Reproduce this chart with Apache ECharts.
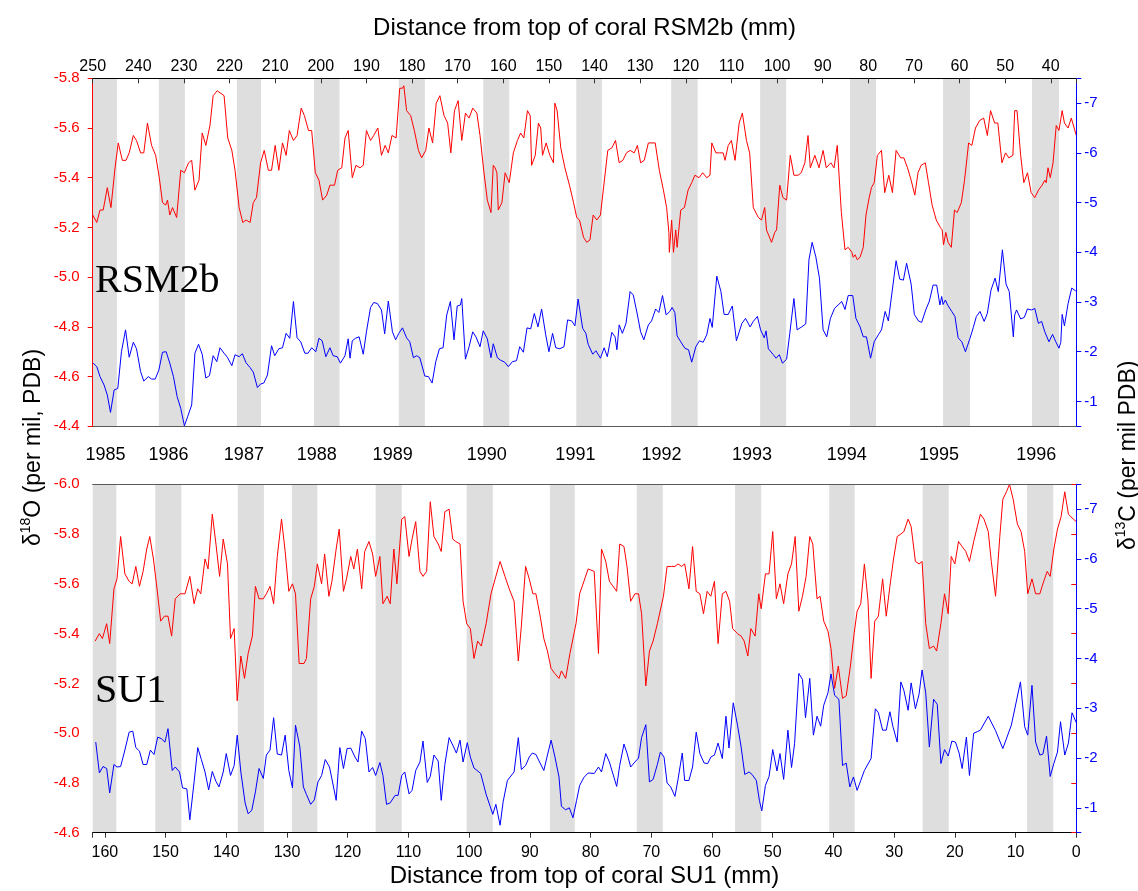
<!DOCTYPE html>
<html>
<head>
<meta charset="utf-8">
<script src="https://cdn.jsdelivr.net/npm/echarts@6/dist/echarts.min.js"></script>
<style>
html, body { margin: 0; padding: 0; background: #ffffff; }
#chart { width: 1138px; height: 891px; }
</style>
</head>
<body>
<div id="chart"></div>
<script>
// RSM2b coral: distance from top (mm) vs isotope value
const rsmO18 = [[250,-5.25],[249.1,-5.22],[248.4,-5.27],[247.7,-5.27],[246.8,-5.36],[246.0,-5.28],[245.1,-5.44],[244.4,-5.54],[243.5,-5.47],[242.7,-5.47],[242.0,-5.50],[241.1,-5.57],[240.4,-5.55],[239.5,-5.50],[238.8,-5.50],[238.0,-5.62],[237.1,-5.53],[236.2,-5.49],[235.4,-5.40],[234.7,-5.30],[234.0,-5.29],[233.6,-5.31],[233.1,-5.25],[232.5,-5.28],[231.6,-5.24],[230.7,-5.43],[229.9,-5.42],[229.0,-5.46],[228.3,-5.47],[227.6,-5.35],[226.7,-5.39],[226.0,-5.58],[225.2,-5.53],[224.3,-5.61],[223.6,-5.73],[222.7,-5.75],[221.2,-5.73],[220.4,-5.56],[219.5,-5.51],[218.8,-5.43],[217.9,-5.28],[217.1,-5.22],[216.4,-5.23],[215.5,-5.22],[214.8,-5.30],[214.1,-5.32],[213.2,-5.46],[212.4,-5.51],[211.5,-5.43],[210.8,-5.43],[210.0,-5.53],[209.2,-5.43],[208.4,-5.54],[207.6,-5.49],[206.9,-5.59],[206.0,-5.55],[205.2,-5.57],[204.3,-5.68],[203.6,-5.65],[202.7,-5.59],[202.0,-5.59],[201.2,-5.42],[200.4,-5.39],[199.6,-5.31],[198.7,-5.33],[198.0,-5.37],[197.0,-5.37],[196.3,-5.43],[195.4,-5.44],[194.7,-5.56],[194.0,-5.59],[193.1,-5.40],[192.3,-5.45],[191.4,-5.44],[190.7,-5.45],[190.0,-5.59],[189.1,-5.55],[188.4,-5.57],[187.5,-5.60],[186.7,-5.49],[185.9,-5.53],[185.2,-5.50],[184.4,-5.57],[183.5,-5.56],[182.7,-5.76],[182.1,-5.76],[181.8,-5.77],[181.2,-5.67],[180.3,-5.65],[179.5,-5.59],[178.6,-5.51],[177.9,-5.48],[177.0,-5.51],[176.3,-5.60],[175.5,-5.54],[174.7,-5.70],[173.9,-5.73],[173.0,-5.65],[172.2,-5.62],[171.5,-5.50],[170.7,-5.67],[169.9,-5.71],[169.1,-5.55],[168.3,-5.66],[167.5,-5.64],[166.7,-5.68],[165.8,-5.66],[165.1,-5.57],[164.3,-5.43],[163.5,-5.31],[162.7,-5.26],[162.2,-5.45],[161.8,-5.44],[161.4,-5.42],[161.1,-5.27],[160.3,-5.30],[159.6,-5.42],[158.7,-5.38],[157.8,-5.50],[156.9,-5.55],[156.2,-5.58],[155.5,-5.56],[154.7,-5.67],[154.1,-5.65],[153.8,-5.45],[153.0,-5.49],[152.3,-5.62],[151.8,-5.60],[151.4,-5.49],[150.6,-5.54],[149.8,-5.49],[149.0,-5.46],[148.7,-5.70],[148.2,-5.67],[147.4,-5.52],[146.5,-5.44],[145.5,-5.37],[144.6,-5.30],[143.9,-5.24],[143.3,-5.23],[142.4,-5.16],[141.7,-5.14],[141.0,-5.15],[140.3,-5.25],[139.5,-5.23],[138.7,-5.25],[137.1,-5.51],[136.2,-5.52],[135.4,-5.55],[134.6,-5.46],[133.8,-5.47],[133.0,-5.50],[132.2,-5.51],[131.3,-5.50],[130.6,-5.53],[129.9,-5.46],[129.1,-5.47],[128.2,-5.54],[126.7,-5.54],[125.8,-5.43],[124.9,-5.35],[124.2,-5.28],[123.7,-5.18],[123.6,-5.10],[123.1,-5.23],[122.7,-5.10],[122.2,-5.19],[121.9,-5.12],[121.1,-5.27],[120.3,-5.28],[119.5,-5.35],[118.7,-5.38],[118.0,-5.41],[117.1,-5.40],[116.3,-5.42],[115.4,-5.40],[114.7,-5.41],[114.3,-5.54],[113.4,-5.50],[112.6,-5.50],[111.8,-5.50],[111.4,-5.47],[110.7,-5.53],[110.0,-5.55],[109.2,-5.47],[108.3,-5.62],[107.6,-5.66],[106.7,-5.55],[106.0,-5.50],[105.2,-5.28],[104.1,-5.24],[103.4,-5.23],[102.7,-5.28],[102.3,-5.19],[101.2,-5.14],[100.5,-5.18],[100.1,-5.19],[99.4,-5.37],[98.7,-5.32],[97.9,-5.31],[97.1,-5.49],[96.3,-5.41],[95.4,-5.41],[94.7,-5.42],[93.9,-5.46],[93.2,-5.57],[92.7,-5.44],[92.3,-5.44],[91.7,-5.49],[90.8,-5.44],[89.9,-5.51],[89.2,-5.44],[88.2,-5.46],[87.5,-5.44],[86.8,-5.53],[85.9,-5.26],[85.1,-5.11],[84.4,-5.12],[83.6,-5.10],[83.3,-5.08],[82.9,-5.09],[82.4,-5.07],[81.8,-5.08],[81.1,-5.12],[80.5,-5.25],[79.8,-5.32],[79.3,-5.36],[78.7,-5.38],[78.0,-5.49],[77.1,-5.51],[76.4,-5.34],[75.5,-5.41],[74.7,-5.34],[73.9,-5.51],[72.9,-5.48],[72.2,-5.48],[71.4,-5.44],[70.6,-5.39],[69.8,-5.33],[69.1,-5.42],[68.4,-5.45],[67.5,-5.46],[66.8,-5.38],[66.0,-5.29],[65.1,-5.23],[64.2,-5.20],[63.8,-5.19],[63.5,-5.13],[63.0,-5.18],[62.5,-5.14],[61.8,-5.12],[61.1,-5.27],[60.5,-5.26],[59.6,-5.30],[58.9,-5.39],[58.0,-5.54],[57.3,-5.53],[56.5,-5.60],[55.6,-5.63],[54.7,-5.64],[53.9,-5.57],[53.2,-5.67],[52.3,-5.62],[51.6,-5.62],[50.7,-5.46],[49.9,-5.50],[49.2,-5.48],[48.3,-5.49],[47.9,-5.67],[47.4,-5.67],[47.0,-5.67],[46.6,-5.49],[45.9,-5.38],[45.1,-5.42],[44.3,-5.34],[43.5,-5.32],[42.7,-5.35],[41.9,-5.37],[41.3,-5.39],[41.0,-5.38],[40.6,-5.44],[40.1,-5.40],[39.5,-5.46],[38.8,-5.61],[38.2,-5.59],[37.5,-5.67],[37.0,-5.62],[36.2,-5.60],[35.5,-5.64],[34.4,-5.57]];

const rsmC13 = [[249.9,-1.77],[249.1,-1.70],[248.4,-1.50],[247.5,-1.33],[246.8,-1.13],[246.1,-0.78],[245.3,-1.23],[244.5,-1.26],[243.7,-2.00],[242.8,-2.44],[242.0,-1.89],[241.1,-2.19],[240.4,-2.06],[239.5,-1.60],[238.8,-1.41],[237.8,-1.50],[237.1,-1.45],[236.3,-1.45],[235.5,-1.63],[234.7,-1.99],[233.9,-2.00],[233.1,-1.77],[232.3,-1.50],[231.5,-1.10],[230.7,-0.86],[229.9,-0.51],[229.2,-0.69],[228.3,-0.93],[227.6,-1.97],[226.8,-2.15],[226.0,-1.95],[225.2,-1.47],[224.4,-1.52],[223.6,-1.92],[222.8,-1.80],[222.1,-2.08],[221.2,-1.97],[220.5,-1.89],[219.5,-1.72],[218.8,-1.94],[217.9,-1.90],[217.2,-1.96],[216.4,-1.78],[215.5,-1.68],[214.8,-1.59],[213.9,-1.28],[213.2,-1.35],[212.5,-1.37],[211.7,-1.53],[210.8,-2.12],[210.1,-1.92],[209.2,-2.06],[208.4,-2.08],[207.6,-2.37],[206.8,-2.27],[206.0,-3.01],[205.2,-2.28],[204.4,-2.20],[203.5,-1.97],[202.8,-1.97],[202.0,-2.08],[201.1,-2.00],[200.4,-2.27],[199.7,-2.22],[198.9,-1.90],[198.0,-2.08],[197.3,-1.92],[196.4,-1.90],[195.7,-1.77],[194.7,-1.92],[194.0,-2.26],[193.6,-1.87],[193.1,-2.22],[192.4,-2.27],[191.6,-2.30],[190.7,-1.95],[190.0,-2.40],[189.1,-2.89],[188.4,-2.99],[187.6,-2.97],[186.7,-2.84],[186.0,-2.36],[185.2,-3.02],[184.3,-2.40],[183.6,-2.24],[182.9,-2.37],[182.1,-2.48],[181.2,-2.28],[180.5,-2.20],[179.7,-1.88],[179.0,-1.92],[178.3,-1.88],[177.2,-1.51],[176.4,-1.50],[175.6,-1.37],[174.8,-1.80],[174.0,-2.06],[173.2,-2.08],[172.4,-2.74],[171.6,-3.01],[170.8,-2.24],[170.1,-2.92],[169.4,-2.94],[169.1,-3.07],[168.3,-1.85],[167.5,-2.10],[166.7,-2.40],[166.0,-2.30],[165.1,-2.10],[164.4,-2.42],[163.5,-2.26],[162.7,-1.88],[162.2,-2.16],[161.3,-1.88],[160.6,-1.83],[159.7,-1.79],[158.9,-1.70],[158.0,-1.80],[157.1,-1.82],[156.4,-2.10],[155.6,-1.99],[154.8,-2.48],[154.0,-2.46],[153.2,-2.77],[152.4,-2.50],[151.6,-2.86],[150.7,-2.34],[150.0,-2.00],[149.2,-2.37],[148.5,-2.08],[147.6,-2.06],[146.7,-2.10],[145.9,-2.64],[145.0,-2.62],[144.3,-2.52],[143.6,-3.06],[142.6,-2.47],[141.9,-2.37],[141.4,-2.15],[140.4,-1.95],[139.7,-2.02],[138.7,-1.87],[137.9,-2.08],[137.2,-1.90],[136.2,-2.39],[135.5,-2.30],[135.1,-2.04],[134.6,-2.54],[133.9,-2.37],[133.1,-2.57],[132.2,-3.21],[131.5,-3.14],[130.6,-2.74],[129.9,-2.40],[129.2,-2.24],[128.2,-2.54],[127.5,-2.62],[126.6,-2.86],[125.9,-2.79],[125.1,-3.13],[124.3,-2.74],[123.5,-2.81],[123.0,-2.89],[122.4,-2.79],[121.9,-2.32],[121.1,-2.20],[120.2,-2.07],[119.4,-2.04],[118.7,-1.79],[117.8,-2.10],[117.0,-2.22],[116.2,-2.19],[115.4,-2.34],[114.7,-2.67],[114.2,-2.49],[113.2,-3.52],[112.3,-3.21],[111.6,-2.75],[110.7,-2.75],[109.8,-2.92],[108.9,-2.22],[107.7,-2.57],[106.9,-2.67],[105.9,-2.50],[105.2,-2.61],[104.3,-2.71],[103.6,-2.44],[102.8,-2.28],[102.4,-2.42],[101.9,-2.06],[100.9,-1.95],[100.2,-1.87],[99.5,-1.94],[98.8,-1.77],[97.9,-1.85],[97.2,-2.37],[96.3,-3.07],[95.6,-2.44],[94.6,-2.50],[93.7,-2.56],[93.0,-3.85],[92.3,-4.20],[91.5,-3.91],[90.7,-3.48],[89.9,-2.44],[89.1,-2.30],[88.3,-2.67],[87.4,-2.87],[86.6,-2.94],[85.8,-3.01],[85.1,-2.85],[84.4,-3.13],[83.4,-3.13],[82.7,-2.67],[81.8,-2.50],[81.1,-2.30],[80.4,-2.30],[79.5,-1.87],[78.7,-2.20],[77.8,-2.34],[77.1,-2.44],[76.3,-2.81],[75.6,-2.62],[74.7,-3.26],[74.3,-3.26],[73.9,-3.83],[73.1,-3.46],[72.3,-3.44],[71.6,-3.78],[70.6,-3.36],[69.9,-2.75],[69.0,-2.62],[68.3,-2.59],[67.4,-2.84],[66.6,-3.02],[65.8,-3.34],[65.0,-3.34],[64.3,-2.94],[63.9,-3.11],[63.6,-2.95],[63.1,-3.04],[62.6,-2.94],[61.7,-2.81],[61.0,-2.71],[60.3,-2.28],[59.5,-2.20],[58.7,-2.00],[57.7,-2.27],[57.0,-2.48],[56.3,-2.71],[55.5,-2.81],[54.6,-2.61],[53.9,-2.77],[53.1,-3.24],[52.2,-3.48],[51.5,-3.21],[50.6,-4.05],[49.8,-3.36],[49.1,-3.21],[48.2,-2.30],[47.9,-2.74],[47.5,-2.84],[46.6,-2.66],[45.8,-2.69],[45.1,-2.86],[44.2,-2.84],[43.5,-2.87],[42.7,-2.57],[42.0,-2.61],[41.3,-2.40],[40.4,-2.20],[39.6,-2.35],[38.9,-2.20],[38.2,-2.07],[37.8,-2.19],[37.5,-2.75],[37.0,-2.52],[36.2,-2.97],[35.4,-3.28],[34.5,-3.22]];

// SU1 coral: distance from top (mm) vs isotope value
const su1O18 = [[161.6,-5.37],[160.9,-5.40],[160.4,-5.38],[159.7,-5.44],[159.2,-5.36],[158.5,-5.58],[158.0,-5.62],[157.4,-5.79],[156.7,-5.64],[156.0,-5.61],[155.5,-5.60],[154.9,-5.67],[154.3,-5.59],[153.7,-5.65],[153.1,-5.74],[152.6,-5.79],[152.0,-5.70],[151.5,-5.60],[150.8,-5.45],[150.2,-5.47],[149.6,-5.47],[149.0,-5.39],[148.4,-5.54],[147.6,-5.56],[146.8,-5.56],[146.0,-5.63],[145.3,-5.52],[144.7,-5.58],[144.2,-5.56],[143.5,-5.70],[143.0,-5.66],[142.3,-5.88],[141.7,-5.76],[141.1,-5.63],[140.5,-5.78],[139.8,-5.68],[139.3,-5.38],[138.7,-5.42],[138.2,-5.13],[137.6,-5.31],[137.0,-5.22],[136.4,-5.32],[135.7,-5.39],[135.2,-5.59],[134.6,-5.54],[133.9,-5.54],[133.4,-5.56],[132.8,-5.59],[132.2,-5.52],[131.6,-5.71],[130.9,-5.86],[130.3,-5.73],[129.7,-5.57],[129.1,-5.60],[128.6,-5.56],[128.0,-5.28],[127.2,-5.28],[126.8,-5.30],[126.1,-5.54],[125.5,-5.59],[125.0,-5.68],[124.3,-5.60],[123.8,-5.72],[123.1,-5.55],[122.6,-5.61],[121.9,-5.74],[121.4,-5.82],[120.7,-5.57],[120.2,-5.62],[119.5,-5.71],[119.0,-5.66],[118.4,-5.74],[117.7,-5.58],[117.2,-5.73],[116.5,-5.77],[115.9,-5.72],[115.4,-5.63],[114.7,-5.71],[114.2,-5.52],[113.5,-5.55],[113.0,-5.52],[112.4,-5.74],[111.9,-5.60],[111.1,-5.86],[110.6,-5.87],[109.9,-5.71],[109.4,-5.78],[108.8,-5.85],[108.1,-5.65],[107.6,-5.63],[107.0,-5.65],[106.4,-5.93],[105.8,-5.79],[105.1,-5.76],[104.6,-5.73],[104.0,-5.89],[103.3,-5.90],[102.7,-5.78],[102.2,-5.77],[101.5,-5.76],[101.0,-5.53],[100.4,-5.44],[99.8,-5.42],[99.2,-5.30],[98.6,-5.37],[98.0,-5.35],[97.2,-5.44],[96.4,-5.56],[95.6,-5.63],[94.9,-5.69],[94.1,-5.63],[93.4,-5.58],[92.6,-5.53],[91.9,-5.29],[91.4,-5.43],[90.7,-5.67],[90.1,-5.62],[89.5,-5.56],[89.0,-5.56],[88.3,-5.47],[87.7,-5.38],[87.1,-5.33],[86.5,-5.26],[85.9,-5.24],[85.2,-5.22],[84.8,-5.25],[84.1,-5.22],[83.4,-5.32],[82.4,-5.44],[81.8,-5.56],[81.1,-5.61],[80.4,-5.66],[79.4,-5.65],[78.7,-5.32],[78.2,-5.74],[77.5,-5.69],[76.9,-5.61],[75.7,-5.57],[75.2,-5.76],[74.5,-5.75],[74.0,-5.67],[73.4,-5.53],[72.7,-5.56],[72.1,-5.56],[71.6,-5.48],[70.9,-5.19],[70.3,-5.33],[69.7,-5.37],[69.0,-5.44],[68.0,-5.55],[67.4,-5.67],[66.7,-5.67],[66.1,-5.67],[65.6,-5.68],[65.0,-5.67],[64.5,-5.68],[63.8,-5.58],[63.2,-5.75],[62.6,-5.57],[62.0,-5.56],[61.4,-5.48],[60.8,-5.57],[60.2,-5.55],[59.6,-5.61],[59.0,-5.36],[58.3,-5.56],[57.7,-5.57],[57.1,-5.53],[56.6,-5.42],[55.8,-5.40],[55.2,-5.39],[54.7,-5.37],[54.1,-5.31],[53.6,-5.42],[52.9,-5.39],[52.3,-5.56],[51.9,-5.50],[51.2,-5.64],[50.6,-5.64],[50.0,-5.81],[49.4,-5.54],[48.8,-5.60],[48.2,-5.52],[47.5,-5.64],[46.9,-5.68],[46.3,-5.79],[45.7,-5.49],[45.1,-5.55],[44.5,-5.63],[43.9,-5.79],[43.4,-5.76],[42.7,-5.54],[42.2,-5.55],[41.6,-5.45],[40.9,-5.41],[40.4,-5.34],[39.8,-5.18],[39.2,-5.27],[38.5,-5.14],[37.9,-5.15],[37.2,-5.27],[36.6,-5.40],[36.1,-5.49],[35.5,-5.52],[34.9,-5.68],[34.3,-5.53],[33.8,-5.22],[33.2,-5.45],[32.6,-5.47],[31.9,-5.62],[31.3,-5.47],[30.7,-5.59],[30.1,-5.70],[29.5,-5.79],[28.9,-5.80],[28.4,-5.81],[27.7,-5.86],[27.2,-5.83],[26.5,-5.69],[25.9,-5.68],[25.4,-5.69],[24.8,-5.44],[24.2,-5.34],[23.5,-5.35],[23.0,-5.33],[22.3,-5.44],[21.7,-5.56],[21.1,-5.48],[20.6,-5.71],[20.0,-5.68],[19.4,-5.77],[18.8,-5.75],[18.2,-5.73],[17.6,-5.69],[16.9,-5.77],[15.8,-5.88],[15.2,-5.86],[14.5,-5.81],[14.0,-5.69],[13.3,-5.55],[12.6,-5.79],[12.1,-5.94],[11.5,-5.97],[11.0,-6.00],[10.4,-5.94],[9.7,-5.84],[9.1,-5.81],[8.5,-5.73],[8.0,-5.56],[7.3,-5.62],[6.7,-5.56],[6.0,-5.56],[5.5,-5.60],[4.8,-5.65],[4.3,-5.63],[3.7,-5.74],[3.1,-5.82],[2.5,-5.87],[1.9,-5.97],[1.3,-5.88],[0.5,-5.86],[0.0,-5.85]];

const su1C13 = [[161.5,-2.32],[160.9,-1.70],[160.3,-1.83],[159.7,-1.79],[159.2,-1.30],[158.5,-1.87],[158.0,-1.82],[157.4,-1.83],[156.7,-2.16],[156.0,-2.52],[155.4,-2.54],[154.9,-2.21],[154.3,-2.14],[153.7,-1.87],[153.1,-1.87],[152.5,-2.16],[151.9,-2.07],[151.3,-2.42],[150.7,-2.39],[150.1,-2.32],[149.6,-2.59],[148.9,-1.75],[148.4,-1.82],[147.7,-1.72],[147.2,-1.40],[146.5,-1.38],[146.0,-0.76],[145.3,-1.52],[144.7,-2.21],[144.1,-1.97],[143.5,-1.72],[142.9,-1.36],[142.3,-1.73],[141.7,-1.53],[141.2,-1.42],[140.5,-1.72],[140.0,-2.09],[139.3,-1.65],[138.7,-1.85],[138.2,-2.46],[137.6,-1.72],[136.9,-1.10],[136.4,-0.88],[135.8,-0.95],[135.2,-1.32],[134.6,-1.79],[133.9,-1.59],[133.4,-2.06],[132.8,-2.16],[132.2,-2.81],[131.6,-2.08],[130.9,-2.06],[130.3,-2.46],[129.7,-1.75],[129.1,-1.40],[128.6,-2.66],[127.9,-2.24],[127.3,-1.42],[126.8,-1.27],[126.1,-1.07],[125.5,-1.16],[124.9,-1.52],[124.3,-1.65],[123.7,-1.97],[123.0,-1.82],[122.5,-1.52],[121.9,-1.15],[121.3,-2.21],[120.7,-1.79],[120.1,-2.19],[119.5,-2.20],[118.8,-2.02],[118.3,-1.92],[117.7,-2.54],[117.1,-2.39],[116.5,-1.72],[115.9,-1.81],[115.4,-1.65],[114.7,-1.91],[114.2,-1.65],[113.6,-1.07],[113.0,-1.10],[112.2,-1.25],[111.7,-1.25],[111.1,-1.65],[110.6,-1.72],[109.9,-1.28],[109.4,-1.35],[108.8,-1.75],[108.1,-1.92],[107.6,-2.34],[106.9,-1.51],[106.4,-1.63],[105.8,-2.06],[105.1,-1.94],[104.6,-1.15],[104.0,-1.87],[103.3,-2.41],[102.7,-2.26],[102.1,-2.10],[101.5,-2.36],[101.0,-1.92],[100.3,-2.31],[99.8,-2.02],[99.2,-1.80],[98.1,-1.69],[97.2,-1.27],[96.1,-0.87],[95.6,-1.07],[94.9,-0.65],[94.4,-1.12],[93.7,-1.55],[92.6,-1.72],[91.9,-2.41],[91.4,-1.77],[90.7,-1.85],[90.1,-2.02],[89.6,-2.10],[89.0,-2.07],[88.4,-1.92],[87.7,-1.75],[87.1,-2.06],[86.5,-2.36],[85.9,-2.04],[85.2,-1.62],[84.8,-1.03],[84.1,-0.96],[83.5,-1.00],[82.9,-0.80],[82.3,-1.15],[81.8,-1.45],[81.1,-1.61],[80.4,-1.70],[79.4,-1.69],[78.7,-1.82],[78.2,-1.72],[77.5,-2.09],[76.9,-1.92],[75.7,-1.43],[75.2,-1.85],[74.5,-2.28],[74.0,-2.10],[73.4,-1.82],[72.7,-1.92],[72.1,-2.00],[71.6,-2.41],[70.9,-2.67],[70.3,-1.52],[69.7,-1.57],[69.0,-1.87],[68.5,-2.12],[67.9,-2.02],[67.4,-1.50],[66.8,-1.42],[66.1,-1.23],[65.6,-1.57],[64.9,-2.10],[64.5,-1.55],[63.8,-1.55],[63.2,-1.82],[62.6,-2.52],[62.0,-2.09],[61.3,-1.90],[60.7,-1.89],[60.2,-2.02],[59.6,-2.06],[59.0,-2.30],[58.3,-1.99],[57.7,-2.84],[57.2,-2.20],[56.5,-3.11],[55.8,-2.66],[55.2,-2.22],[54.6,-1.67],[53.9,-1.72],[53.4,-1.67],[52.7,-1.55],[52.2,-1.15],[51.8,-0.94],[51.2,-1.45],[50.6,-1.63],[50.0,-2.17],[49.3,-1.74],[48.8,-2.09],[48.2,-1.57],[47.5,-2.56],[46.9,-1.81],[46.4,-2.29],[45.7,-3.70],[45.1,-3.58],[44.6,-2.81],[43.9,-3.60],[43.3,-2.46],[42.7,-2.84],[42.1,-2.64],[41.6,-3.06],[40.9,-3.31],[40.4,-3.69],[39.8,-3.26],[39.1,-3.18],[38.5,-1.85],[37.9,-1.90],[37.3,-1.42],[36.7,-1.62],[36.1,-1.35],[35.5,-1.55],[34.9,-1.75],[33.8,-1.99],[33.1,-2.99],[32.6,-2.91],[31.9,-2.56],[31.3,-2.56],[30.7,-2.93],[30.2,-2.63],[29.5,-2.32],[28.9,-3.53],[28.4,-3.36],[27.7,-2.96],[27.2,-3.51],[26.5,-2.99],[25.9,-3.28],[25.4,-3.77],[24.8,-3.31],[24.2,-2.22],[23.5,-3.18],[22.9,-3.08],[22.3,-1.89],[21.7,-2.17],[21.1,-2.04],[20.5,-2.34],[19.9,-2.32],[19.3,-2.10],[18.8,-1.79],[18.1,-2.42],[17.6,-1.65],[16.9,-2.50],[16.3,-2.53],[15.8,-2.56],[14.5,-2.84],[13.3,-2.55],[12.1,-2.19],[10.7,-2.66],[9.2,-3.53],[8.5,-2.63],[8.0,-2.46],[7.3,-3.46],[6.7,-2.32],[6.0,-2.06],[5.5,-2.08],[4.9,-2.44],[4.3,-1.63],[3.7,-1.89],[3.1,-2.12],[2.6,-2.73],[1.9,-2.06],[1.3,-2.30],[0.7,-2.91],[0.0,-2.71]];

// Shaded intervals (mm from top) for each core
const rsmBands = [[250,244.7],[235.5,229.8],[218.4,213.1],[201.5,195.9],[182.9,177.2],[164.4,158.7],[144.0,138.4],[123.2,117.4],[103.7,98.0],[84.0,78.3],[63.6,57.7],[44.1,38.2]];
const su1Bands = [[162,158.1],[151.7,147.4],[138.1,133.8],[129.2,125.0],[115.4,111.1],[100.4,96.1],[86.7,82.6],[72.4,68.1],[56.2,51.9],[40.7,36.5],[25.3,21.0],[8.1,3.8]];

// Year markers, anchored on the SU1 distance scale (mm)
const yearLabels = ['1985','1986','1987','1988','1989','1990','1991','1992','1993','1994','1995','1996'];
const yearPosSU1 = [159.9,149.5,137.1,125.1,112.6,97.1,82.5,68.3,53.4,37.8,22.6,6.6];

const topTitle = 'Distance from top of coral RSM2b (mm)';
const bottomTitle = 'Distance from top of coral SU1 (mm)';

const FONT = '"Liberation Sans", Arial, sans-serif';
const SERIF = '"Liberation Serif", "Times New Roman", serif';
const RED = '#ff0000';
const BLUE = '#0000ff';
const BAND = '#dedede';

const isMult = (v, step) => Math.abs(v / step - Math.round(v / step)) < 1e-6;

function bandArea(bands) {
  return {
    silent: true,
    itemStyle: { color: BAND },
    data: bands.map(b => [{ xAxis: b[0] }, { xAxis: b[1] }])
  };
}

function leftAxis(grid, min, max) {
  return {
    gridIndex: grid, type: 'value', position: 'left', inverse: true,
    min: min, max: max, interval: 0.2, z: 10,
    axisLine: { show: true, lineStyle: { color: RED, width: 1 } },
    axisTick: { show: true, length: 5, lineStyle: { color: RED } },
    axisLabel: { color: RED, fontSize: 15, fontFamily: FONT, margin: 13,
      formatter: v => v.toFixed(1) },
    splitLine: { show: false }
  };
}

function rightAxis(grid) {
  return {
    gridIndex: grid, type: 'value', position: 'right', inverse: true,
    min: -7.5, max: -0.5, minInterval: 1, maxInterval: 1, z: 10,
    axisLine: { show: true, lineStyle: { color: BLUE, width: 1 } },
    axisTick: { show: true, length: 5, lineStyle: { color: BLUE } },
    axisLabel: { color: BLUE, fontSize: 15, fontFamily: FONT, margin: 8,
      formatter: v => isMult(v, 1) ? String(Math.round(v)) : '' },
    splitLine: { show: false }
  };
}

function frameAxis(grid, pos, min, max) {
  return {
    gridIndex: grid, type: 'value', position: pos, inverse: true,
    min: min, max: max, z: 10,
    axisLine: { show: true, onZero: false, lineStyle: { color: '#5a5a5a', width: 1.2 } },
    axisTick: { show: false }, axisLabel: { show: false }, splitLine: { show: false }
  };
}

function lineSeries(x, y, data, color) {
  return {
    type: 'line', xAxisIndex: x, yAxisIndex: y, data: data,
    showSymbol: false, symbol: 'none', z: 3,
    lineStyle: { color: color, width: 1 }, itemStyle: { color: color }
  };
}

const chart = echarts.init(document.getElementById('chart'), null, { renderer: 'canvas' });

const option = {
  animation: false,
  backgroundColor: '#ffffff',
  grid: [
    { left: 92.7, right: 61.7, top: 78.3, height: 348, outerBoundsMode: 'none' },
    { left: 92.7, right: 61.7, top: 484.3, height: 348.4, outerBoundsMode: 'none' }
  ],
  xAxis: [
    {
      gridIndex: 0, type: 'value', position: 'top', inverse: true,
      min: 34.4, max: 250, minInterval: 10, maxInterval: 10, z: 10,
      axisLine: { show: true, onZero: false, lineStyle: { color: '#000', width: 1.2 } },
      axisTick: { show: true, inside: true, length: 5, lineStyle: { color: '#333' } },
      axisLabel: { color: '#000', fontSize: 16, fontFamily: FONT, margin: 4,
        formatter: v => isMult(v, 10) ? String(Math.round(v)) : '' },
      splitLine: { show: false }
    },
    frameAxis(0, 'bottom', 34.4, 250),
    {
      gridIndex: 1, type: 'value', position: 'bottom', inverse: true,
      min: 0, max: 162, interval: 10, z: 10,
      axisLine: { show: true, onZero: false, lineStyle: { color: '#000', width: 1.2 } },
      axisTick: { show: true, length: 5, lineStyle: { color: '#333' } },
      axisLabel: { color: '#000', fontSize: 16, fontFamily: FONT, margin: 12,
        formatter: v => isMult(v, 10) ? String(Math.round(v)) : '' },
      splitLine: { show: false }
    },
    frameAxis(1, 'top', 0, 162)
  ],
  yAxis: [
    leftAxis(0, -5.8, -4.4),
    rightAxis(0),
    leftAxis(1, -6.0, -4.6),
    rightAxis(1)
  ],
  series: [
    { type: 'line', xAxisIndex: 0, yAxisIndex: 0, data: [], z: 1, markArea: bandArea(rsmBands) },
    lineSeries(0, 0, rsmO18, RED),
    lineSeries(0, 1, rsmC13, BLUE),
    { type: 'line', xAxisIndex: 2, yAxisIndex: 2, data: [], z: 1, markArea: bandArea(su1Bands) },
    lineSeries(2, 2, su1O18, RED),
    lineSeries(2, 3, su1C13, BLUE)
  ]
};

chart.setOption(option);

// Text overlays: axis titles, panel names and year markers
const superRich = (color) => ({
  a: { fontSize: 23, fontFamily: FONT, color: color, lineHeight: 28, verticalAlign: 'bottom' },
  s: { fontSize: 14, fontFamily: FONT, color: color, lineHeight: 28, verticalAlign: 'top', padding: [2, 0, 0, 0] }
});

// horizontal centre of the plotting area
const plotCentre = (chart.convertToPixel({ xAxisIndex: 2 }, 0) + chart.convertToPixel({ xAxisIndex: 2 }, 162)) / 2;

const graphics = [
  { type: 'text', id: 'titleTop', x: plotCentre, y: 28, z: 20,
    style: { text: topTitle, font: '24px ' + FONT, fill: '#000', align: 'center', verticalAlign: 'middle' } },
  { type: 'text', id: 'titleBottom', x: plotCentre, y: 876, z: 20,
    style: { text: bottomTitle, font: '24px ' + FONT, fill: '#000', align: 'center', verticalAlign: 'middle' } },
  { type: 'text', id: 'panelTop', x: 95, y: 281, z: 20,
    style: { text: 'RSM2b', font: '40px ' + SERIF, fill: '#000', align: 'left', verticalAlign: 'middle' } },
  { type: 'text', id: 'panelBottom', x: 95, y: 691, z: 20,
    style: { text: 'SU1', font: '40px ' + SERIF, fill: '#000', align: 'left', verticalAlign: 'middle' } },
  { type: 'text', id: 'titleLeft', x: 31, y: 546, rotation: Math.PI / 2, z: 20,
    style: { text: '{a|δ}{s|18}{a|O (per mil, PDB)}', rich: superRich(RED), align: 'left', verticalAlign: 'middle' } },
  { type: 'text', id: 'titleRight', x: 1126, y: 550, rotation: Math.PI / 2, z: 20,
    style: { text: '{a|δ}{s|13}{a|C (per mil PDB)}', rich: superRich(BLUE), align: 'left', verticalAlign: 'middle' } }
];

yearLabels.forEach((label, i) => {
  const px = chart.convertToPixel({ xAxisIndex: 2 }, yearPosSU1[i]);
  graphics.push({
    type: 'text', id: 'year' + label, x: px, y: 455, z: 20,
    style: { text: label, font: '18px ' + FONT, fill: '#000', align: 'center', verticalAlign: 'middle' }
  });
});

chart.setOption({ graphic: { elements: graphics } });
</script>
</body>
</html>
